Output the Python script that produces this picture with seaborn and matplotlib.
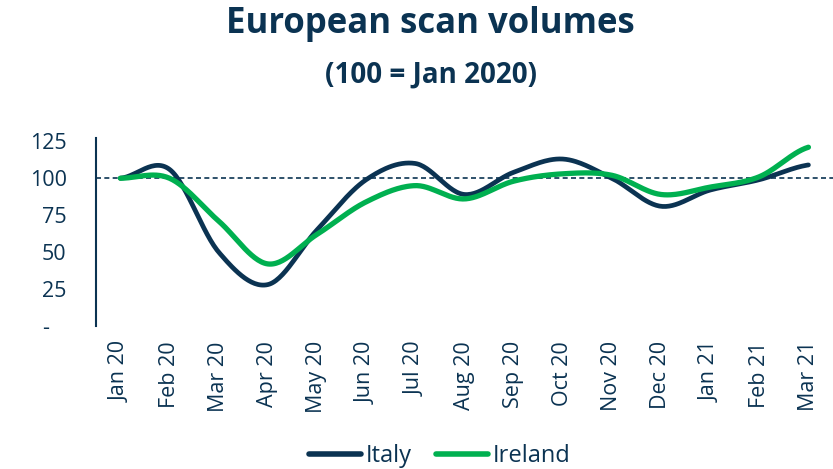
import matplotlib
matplotlib.use("Agg")
import matplotlib.pyplot as plt
import numpy as np
import pandas as pd
import seaborn as sns

# Data
months = ["Jan 20", "Feb 20", "Mar 20", "Apr 20", "May 20", "Jun 20", "Jul 20", "Aug 20",
          "Sep 20", "Oct 20", "Nov 20", "Dec 20", "Jan 21", "Feb 21", "Mar 21"]
italy = [100, 106, 50, 28, 65, 99, 110, 89, 104, 113, 100, 81, 92, 99, 109]
ireland = [100, 100, 71, 42, 62, 84, 95, 86, 98, 103, 102, 89, 94, 101, 121]
y_ticks = [0, 25, 50, 75, 100, 125]
y_labels = ["-   ", "25", "50", "75", "100", "125"]

NAVY = "#0b3352"
GREEN = "#00b050"


def smooth(values, steps=30):
    # Catmull-Rom curve through the points, like Excel's smoothed line
    y = np.asarray(values, dtype=float)
    p = np.concatenate([[y[0]], y, [y[-1]]])
    xs, ys = [], []
    for i in range(len(y) - 1):
        p0, p1, p2, p3 = p[i], p[i + 1], p[i + 2], p[i + 3]
        t = np.linspace(0, 1, steps, endpoint=False)
        yy = 0.5 * ((2 * p1) + (-p0 + p2) * t + (2 * p0 - 5 * p1 + 4 * p2 - p3) * t ** 2
                    + (-p0 + 3 * p1 - 3 * p2 + p3) * t ** 3)
        xs.append(i + t)
        ys.append(yy)
    xs.append([len(y) - 1])
    ys.append([y[-1]])
    return np.concatenate(xs), np.concatenate(ys)


frames = []
for name, vals in [("Italy", italy), ("Ireland", ireland)]:
    x, y = smooth(vals)
    frames.append(pd.DataFrame({"x": x, "value": y, "country": name}))
df = pd.concat(frames, ignore_index=True)

sns.set_style("white")
plt.rcParams["font.family"] = ["Open Sans", "DejaVu Sans"]

fig = plt.figure(figsize=(8.33, 4.69), dpi=100)
ax = fig.add_axes([0.115, 0.305, 0.885, 0.40])

ax.axhline(100, color=NAVY, lw=1.2, ls=(0, (3, 2)), zorder=1)
sns.lineplot(data=df, x="x", y="value", hue="country", palette={"Italy": NAVY, "Ireland": GREEN},
             ax=ax, legend=False, sort=False, estimator=None)
ax.lines[1].set_linewidth(3.4)
ax.lines[2].set_linewidth(3.8)
for ln in ax.lines[1:]:
    ln.set_solid_capstyle("round")

ax.set_xlim(-0.5, 14.5)
ax.set_ylim(0, 127)
ax.set_xticks(range(len(months)))
ax.set_xticklabels(months, rotation=90, fontsize=15.5, color=NAVY)
ax.set_yticks(y_ticks)
ax.set_yticklabels(y_labels, fontsize=15.5, color=NAVY)
ax.tick_params(axis="x", length=0, pad=11)
ax.tick_params(axis="y", length=0, pad=21)
ax.set_xlabel("")
ax.set_ylabel("")
for s in ["top", "right", "bottom"]:
    ax.spines[s].set_visible(False)
ax.spines["left"].set_color(NAVY)
ax.spines["left"].set_linewidth(1.5)

fig.text(0.517, 0.930, "European scan volumes", ha="center", va="baseline",
         fontsize=25, fontweight="bold", color=NAVY)
fig.text(0.517, 0.825, "(100 = Jan 2020)", ha="center", va="baseline",
         fontsize=20, fontweight="bold", color=NAVY)

handles = [plt.Line2D([], [], color=NAVY, lw=4, solid_capstyle="round"),
           plt.Line2D([], [], color=GREEN, lw=4, solid_capstyle="round")]
leg = fig.legend(handles, ["Italy", "Ireland"], loc="center", bbox_to_anchor=(0.528, 0.028),
                 ncol=2, frameon=False, fontsize=17, handlelength=2.2, handletextpad=0.2,
                 columnspacing=1.0)
for t in leg.get_texts():
    t.set_color(NAVY)

fig.savefig("out.png", dpi=100)
